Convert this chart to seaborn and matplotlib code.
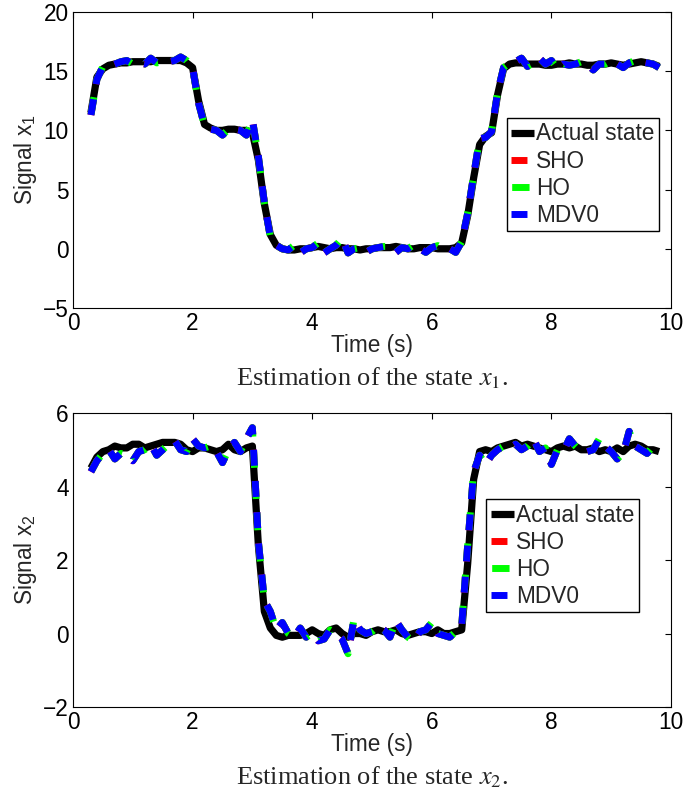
import numpy as np
import pandas as pd
import matplotlib
matplotlib.use('Agg')
import matplotlib.pyplot as plt
import seaborn as sns

'''
Dados lidos do grafico (t de 0.3 a 9.8 s, passo 0.1)
'''
time_s = np.round(np.arange(0.3, 9.85, 0.1), 1)

actual_x1 = [11.5, 14.5, 15.2, 15.5, 15.6, 15.7, 15.7, 15.8, 15.8, 15.8,
             15.8, 15.9, 15.9, 15.9, 15.9, 15.9, 15.7, 15.3, 12.5, 10.5,
             10.2, 10.0, 10.0, 10.1, 10.1, 10.0, 10.0, 9.8, 7.5, 3.8,
             1.2, 0.3, 0.0, -0.1, -0.1, 0.0, 0.0, 0.1, 0.2, 0.1,
             0.0, 0.1, 0.1, 0.0, 0.0, -0.1, 0.0, 0.0, 0.1, 0.1,
             0.1, 0.2, 0.1, 0.0, 0.0, 0.1, 0.1, 0.1, 0.0, 0.0,
             0.0, 0.1, 0.5, 2.8, 6.0, 8.8, 9.5, 9.8, 13.0, 15.2,
             15.6, 15.7, 15.7, 15.6, 15.6, 15.6, 15.5, 15.5, 15.6, 15.6,
             15.7, 15.6, 15.6, 15.5, 15.5, 15.6, 15.6, 15.7, 15.6, 15.5,
             15.6, 15.7, 15.8, 15.7, 15.6, 15.4]

est_x1 = [11.3, 14.3, 15.4, 15.4, 15.6, 15.8, 15.9, 15.6, 15.7, 15.6,
          16.1, 15.7, 15.8, 15.8, 15.9, 16.2, 15.9, 15.3, 12.3, 10.4,
          10.1, 10.0, 9.6, 10.1, 10.1, 10.0, 9.6, 10.9, 7.8, 3.9,
          1.0, 0.3, 0.0, -0.1, 0.3, -0.35, 0.0, 0.1, 0.5, -0.35,
          0.0, 0.3, 0.9, -0.35, 0.0, 0.1, -0.3, 0.0, 0.1, 0.2,
          0.2, -0.3, 0.1, 0.0, 0.35, 0.0, -0.3, 0.1, 0.27, 0.0,
          0.0, -0.3, 0.6, 3.0, 6.2, 9.3, 9.4, 9.9, 13.2, 15.3,
          15.7, 15.8, 16.1, 15.4, 15.7, 16.1, 15.6, 15.9, 15.2, 15.6,
          15.5, 15.6, 15.8, 15.6, 15.1, 15.6, 15.6, 15.9, 15.6, 15.3,
          15.7, 15.9, 15.8, 15.7, 15.6, 15.3]

actual_x2 = [4.5, 4.8, 4.95, 5.0, 5.1, 5.05, 5.05, 5.15, 5.15, 5.05,
             5.1, 5.15, 5.2, 5.2, 5.2, 5.15, 5.0, 4.95, 5.05, 5.05,
             5.0, 4.95, 5.0, 5.15, 5.0, 4.95, 5.05, 5.1, 2.4, 0.6,
             0.15, -0.05, -0.1, -0.05, -0.05, -0.05, 0.0, 0.1, 0.0, -0.05,
             0.1, 0.15, 0.0, -0.1, 0.0, 0.0, -0.05, 0.05, 0.1, 0.05,
             0.05, 0.1, 0.0, -0.05, 0.0, 0.05, 0.05, 0.0, 0.1, 0.0,
             0.0, 0.05, 0.1, 1.9, 4.2, 4.95, 5.0, 4.95, 5.05, 5.1,
             5.15, 5.2, 5.1, 5.15, 5.1, 5.05, 5.0, 4.95, 5.05, 5.1,
             5.05, 5.1, 5.0, 5.0, 5.05, 4.95, 5.0, 4.95, 5.05, 4.95,
             5.1, 5.15, 5.1, 5.0, 5.0, 4.95]

est_x2 = [4.4, 4.7, 4.9, 5.0, 4.75, 4.9, 4.85, 4.7, 4.95, 5.0,
          5.15, 4.85, 5.0, 5.15, 5.25, 5.0, 4.95, 5.3, 5.1, 5.05,
          5.1, 4.95, 4.65, 5.0, 5.2, 4.95, 5.3, 5.6, 2.5, 0.9,
          0.6, 0.1, 0.3, 0.0, -0.1, 0.15, -0.1, 0.0, -0.2, -0.15,
          0.1, 0.0, -0.15, -0.55, 0.4, 0.1, 0.0, 0.05, 0.2, 0.1,
          -0.1, 0.35, 0.1, -0.1, -0.2, 0.05, 0.1, 0.3, 0.0, -0.05,
          -0.1, 0.05, 0.2, 2.4, 4.4, 4.85, 4.6, 4.85, 5.0, 5.1,
          5.05, 5.15, 5.0, 5.1, 5.3, 4.95, 5.05, 4.6, 5.0, 4.95,
          5.3, 5.1, 4.95, 4.95, 5.0, 5.3, 5.1, 4.95, 4.75, 4.9,
          5.5, 5.1, 5.0, 4.9, 5.1, 4.95]

series_names = ['Actual state', 'SHO', 'HO', 'MDV0']
series_colors = ['black', 'red', '#00ff00', 'blue']

ylims = [(-5, 20), (-2, 6)]
yticks = [[-5, 0, 5, 10, 15, 20], [-2, 0, 2, 4, 6]]
xticks = [0, 2, 4, 6, 8, 10]
ylabels = ['Signal x$\\mathregular{_1}$', 'Signal x$\\mathregular{_2}$']
captions = ['Estimation of the state $x_1$.', 'Estimation of the state $x_2$.']

'''
Estilo
'''
sns.set_style('white')
plt.rcParams['font.family'] = ['Liberation Sans', 'DejaVu Sans']
plt.rcParams['mathtext.fontset'] = 'stix'
plt.rcParams['axes.linewidth'] = 0.8
plt.rcParams['xtick.direction'] = 'in'
plt.rcParams['ytick.direction'] = 'in'

fig = plt.figure(figsize=(6.84, 7.93), dpi=100)
ax_top = fig.add_axes([0.1067, 0.6116, 0.8743, 0.3733])
ax_bot = fig.add_axes([0.1067, 0.1084, 0.8743, 0.3708])

dash_styles = {
    'SHO': (0, (2.3, 2.2)),
    'HO': (-0.1, (2.5, 2.0)),
    'MDV0': (0, (2.3, 2.2)),
}

datasets = [(actual_x1, est_x1), (actual_x2, est_x2)]
legend_anchor = [(0.98, 0.642), (0.946, 0.707)]
caption_y = [1 - 378 / 793, 1 - 777 / 793]
fs = 16.3

for i, ax in enumerate([ax_top, ax_bot]):
    actual, est = datasets[i]
    sns.lineplot(x=time_s, y=actual, ax=ax, color=series_colors[0], lw=5.2,
                 estimator=None, sort=False, label=series_names[0],
                 solid_capstyle='butt', solid_joinstyle='round')
    for name, col in zip(series_names[1:], series_colors[1:]):
        sns.lineplot(x=time_s, y=est, ax=ax, color=col, lw=5,
                     estimator=None, sort=False, label=name,
                     linestyle=dash_styles[name], dash_capstyle='butt')

    ax.set_xlim(0, 10)
    ax.set_ylim(*ylims[i])
    ax.set_xticks(xticks)
    ax.set_yticks(yticks[i])
    ax.tick_params(axis='both', labelsize=fs, length=4, width=0.8,
                   top=True, right=True, pad=3, colors='black')
    for sp in ax.spines.values():
        sp.set_visible(True)
        sp.set_color('black')
    ax.set_xlabel('Time (s)', fontsize=fs, labelpad=-1)
    ax.set_ylabel(ylabels[i], fontsize=fs, labelpad=3)

    leg = ax.legend(loc='upper right', bbox_to_anchor=legend_anchor[i],
                    fontsize=fs, frameon=True, fancybox=False,
                    framealpha=1, edgecolor='black', handlelength=1.0,
                    handletextpad=0.1, labelspacing=0.18, borderpad=0.2,
                    borderaxespad=0)
    leg.get_frame().set_linewidth(1.0)

    fig.text(0.5439, caption_y[i], captions[i], ha='center', va='center',
             fontsize=19, family='Liberation Serif')

fig.savefig('out.png', dpi=100)
